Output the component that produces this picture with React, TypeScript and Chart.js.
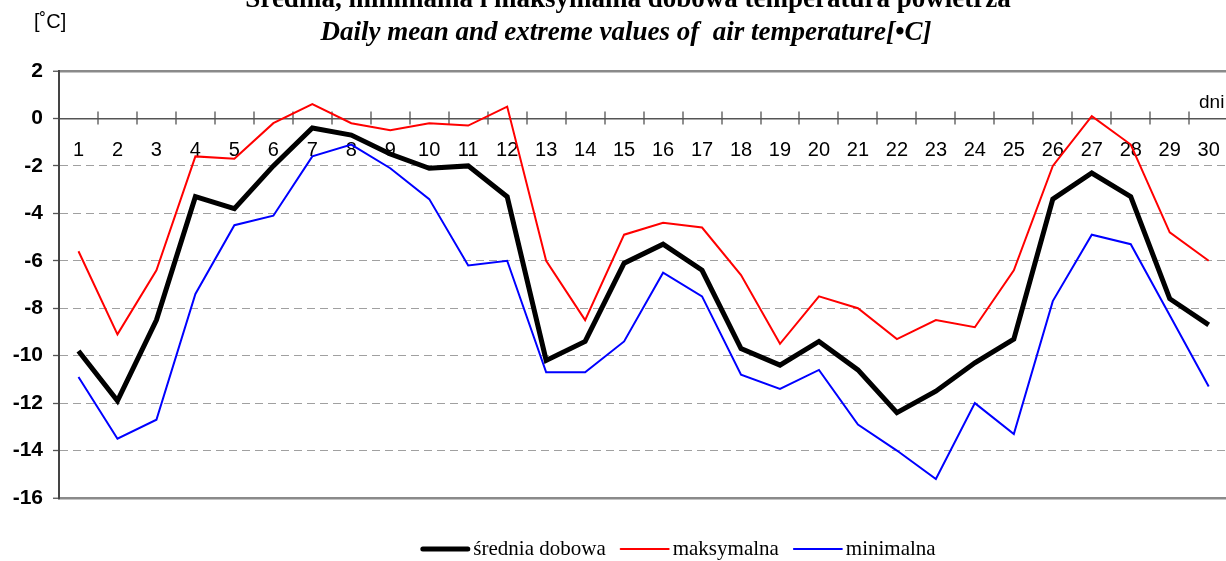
import React, { useEffect, useRef } from 'react';
import { Chart, registerables } from 'chart.js';

Chart.register(...registerables);

// ---- data ----
const days: string[] = [
  '1', '2', '3', '4', '5', '6', '7', '8', '9', '10',
  '11', '12', '13', '14', '15', '16', '17', '18', '19', '20',
  '21', '22', '23', '24', '25', '26', '27', '28', '29', '30',
];
const meanTemp: number[] = [
  -9.8, -11.9, -8.5, -3.3, -3.8, -2.0, -0.4, -0.7, -1.5, -2.1,
  -2.0, -3.3, -10.2, -9.4, -6.1, -5.3, -6.4, -9.7, -10.4, -9.4,
  -10.6, -12.4, -11.5, -10.3, -9.3, -3.4, -2.3, -3.3, -7.6, -8.7,
];
const maxTemp: number[] = [
  -5.6, -9.1, -6.4, -1.6, -1.7, -0.2, 0.6, -0.2, -0.5, -0.2,
  -0.3, 0.5, -6.0, -8.5, -4.9, -4.4, -4.6, -6.6, -9.5, -7.5,
  -8.0, -9.3, -8.5, -8.8, -6.4, -2.0, 0.1, -1.1, -4.8, -6.0,
];
const minTemp: number[] = [
  -10.9, -13.5, -12.7, -7.4, -4.5, -4.1, -1.6, -1.1, -2.1, -3.4,
  -6.2, -6.0, -10.7, -10.7, -9.4, -6.5, -7.5, -10.8, -11.4, -10.6,
  -12.9, -14.0, -15.2, -12.0, -13.3, -7.7, -4.9, -5.3, -8.3, -11.3,
];
const seriesLabels: string[] = ['średnia dobowa', 'maksymalna', 'minimalna'];
const yMin = -16;
const yMax = 2;
const yStep = 2;
const titlePl = 'Średnia, minimalna i maksymalna dobowa temperatura powietrza';
const titleEn = 'Daily mean and extreme values of  air temperature[•C]';
const unitLabel = '[˚C]';
const xAxisLabel = 'dni';

const SANS = '"Liberation Sans", Arial, sans-serif';
const SERIF = '"Liberation Serif", "Times New Roman", serif';

// crossing tick marks on the zero axis
const crossTicksPlugin = {
  id: 'crossTicks',
  beforeDatasetsDraw(chart: any) {
    const xs = chart.scales.x;
    const ys = chart.scales.y;
    const ctx = chart.ctx;
    const y0 = Math.round(ys.getPixelForValue(0)) + 0.5;
    const half = (xs.getPixelForValue(1) - xs.getPixelForValue(0)) / 2;
    ctx.save();
    ctx.strokeStyle = '#555';
    ctx.lineWidth = 1.3;
    ctx.beginPath();
    for (let i = 1; i <= days.length; i++) {
      const px = Math.round(xs.getPixelForValue(i - 1) + half);
      ctx.moveTo(px, y0 - 7);
      ctx.lineTo(px, y0 + 6);
    }
    ctx.stroke();
    ctx.restore();
  },
};

// titles and axis captions
const textPlugin = {
  id: 'texts',
  afterDraw(chart: any) {
    const ctx = chart.ctx;
    ctx.save();
    ctx.fillStyle = '#000';
    ctx.textBaseline = 'alphabetic';
    ctx.textAlign = 'center';
    ctx.font = `bold 27px ${SERIF}`;
    ctx.fillText(titlePl, 628, 7);
    ctx.font = `italic bold 27px ${SERIF}`;
    ctx.fillText(titleEn, 626, 40);
    ctx.textAlign = 'left';
    ctx.font = `20px ${SANS}`;
    ctx.fillText(unitLabel, 34, 28);
    ctx.font = `19px ${SANS}`;
    ctx.fillText(xAxisLabel, 1199, 108);
    ctx.restore();
  },
};

// legend drawn from the datasets
const legendPlugin = {
  id: 'bottomLegend',
  afterDraw(chart: any) {
    const ctx = chart.ctx;
    const sets = chart.data.datasets;
    const lineW = 50;
    const gapText = 3;
    const gapItem = 14;
    const cy = 549;
    ctx.save();
    ctx.font = `21px ${SERIF}`;
    const widths = sets.map((d: any) => lineW + gapText + ctx.measureText(d.label).width);
    const total = widths.reduce((a: number, b: number) => a + b, 0) + gapItem * (sets.length - 1);
    let x = 678 - total / 2;
    sets.forEach((d: any, i: number) => {
      ctx.strokeStyle = d.borderColor;
      ctx.lineWidth = d.borderWidth;
      ctx.lineCap = 'round';
      ctx.beginPath();
      ctx.moveTo(x + d.borderWidth / 2, cy);
      ctx.lineTo(x + lineW - d.borderWidth / 2, cy);
      ctx.stroke();
      ctx.fillStyle = '#000';
      ctx.textAlign = 'left';
      ctx.textBaseline = 'middle';
      ctx.fillText(d.label, x + lineW + gapText, cy);
      x += widths[i] + gapItem;
    });
    ctx.restore();
  },
};

const isEdge = (v: number) => v === yMax || v === yMin;

export default function App() {
  const canvasRef = useRef<HTMLCanvasElement | null>(null);

  useEffect(() => {
    if (!canvasRef.current) return;
    const chart = new Chart(canvasRef.current, {
      type: 'line',
      data: {
        labels: days,
        datasets: [
          {
            label: seriesLabels[0],
            data: meanTemp,
            borderColor: '#000000',
            backgroundColor: '#000000',
            borderWidth: 5,
            pointRadius: 0,
            tension: 0,
          },
          {
            label: seriesLabels[1],
            data: maxTemp,
            borderColor: '#ff0000',
            backgroundColor: '#ff0000',
            borderWidth: 2,
            pointRadius: 0,
            tension: 0,
          },
          {
            label: seriesLabels[2],
            data: minTemp,
            borderColor: '#0000ff',
            backgroundColor: '#0000ff',
            borderWidth: 2,
            pointRadius: 0,
            tension: 0,
          },
        ],
      },
      options: {
        responsive: false,
        animation: false,
        devicePixelRatio: 1,
        layout: { padding: { top: 71, bottom: 63, left: 0, right: 11 } },
        plugins: {
          legend: { display: false },
          title: { display: false },
          tooltip: { enabled: false },
        },
        scales: {
          x: {
            type: 'category',
            offset: true,
            position: { y: 0 } as any,
            grid: { display: false, drawTicks: false, offset: true },
            border: { display: true, color: '#555', width: 1.5 },
            ticks: {
              color: '#000',
              font: { family: SANS, size: 20 },
              padding: 20,
              maxRotation: 0,
              autoSkip: false,
            },
          },
          y: {
            type: 'linear',
            min: yMin,
            max: yMax,
            ticks: {
              stepSize: yStep,
              color: '#000',
              font: { family: SANS, size: 21, weight: 'bold' },
              padding: 10,
            },
            grid: {
              color: (c: any) => {
                const v = c.tick ? c.tick.value : 1;
                if (v === 0) return 'rgba(0,0,0,0)';
                return isEdge(v) ? '#8a8a8a' : '#a0a0a0';
              },
              lineWidth: (c: any) => (c.tick && isEdge(c.tick.value) ? 2.5 : 1),
              drawTicks: true,
              tickLength: 6,
              tickColor: '#555',
              tickWidth: 1.3,
            },
            border: {
              display: true,
              color: '#444',
              width: 2,
              dash: (c: any) => (c.tick && isEdge(c.tick.value) ? [] : [8, 5]),
            },
            afterFit: (s: any) => {
              s.width = 59;
            },
          },
        },
      },
      plugins: [crossTicksPlugin, textPlugin, legendPlugin],
    } as any);
    return () => chart.destroy();
  }, []);

  return (
    <div
      style={{
        position: 'fixed',
        left: 0,
        top: 0,
        width: 1226,
        height: 561,
        overflow: 'hidden',
        background: '#fff',
      }}
    >
      <canvas
        ref={canvasRef}
        width={1240}
        height={561}
        style={{ display: 'block', width: 1240, height: 561 }}
      />
    </div>
  );
}
